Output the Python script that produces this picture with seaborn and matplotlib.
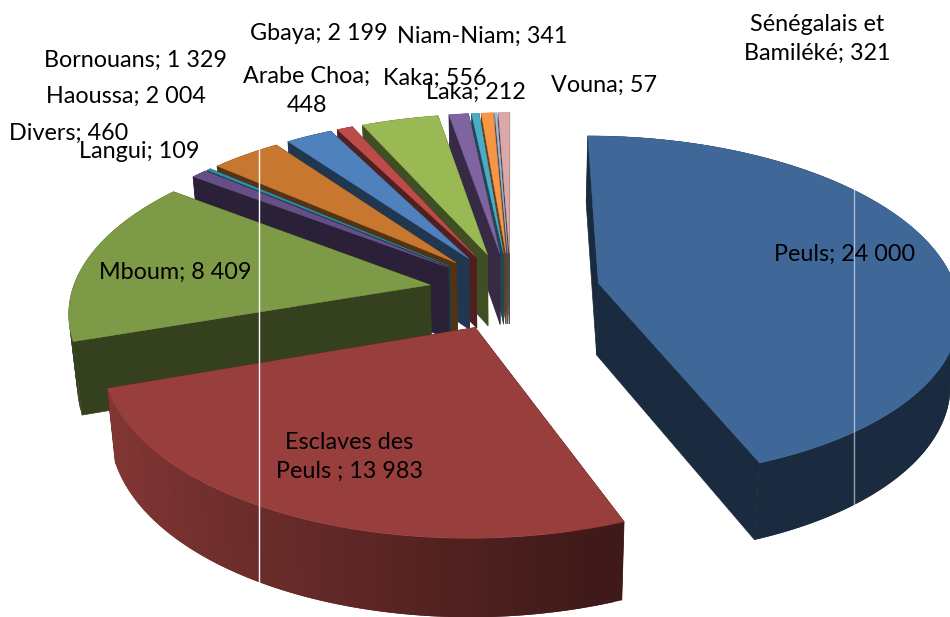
import numpy as np
import matplotlib
matplotlib.use('Agg')
import matplotlib.pyplot as plt
import seaborn as sns

# slices, clockwise from 12 o'clock
names = ['Peuls; ', 'Esclaves des\nPeuls ; ', 'Mboum; ', 'Divers; ', 'Langui; ', 'Haoussa; ', 'Bornouans; ',
         'Arabe Choa;\n', 'Gbaya; ', 'Kaka; ', 'Laka; ', 'Niam-Niam; ', 'Vouna; ', 'Sénégalais et\nBamiléké; ']
values = [24000, 13983, 8409, 460, 109, 2004, 1329, 448, 2199, 556, 212, 341, 57, 321]
colors = ['#3F6797', '#983F3D', '#7D9A47', '#654F86', '#2F8FA8', '#C87730', '#4F81BD',
          '#BC4B4A', '#98B954', '#8064A2', '#4BACC6', '#F79646', '#A6BBDD', '#D9A9A8']
label_x = [845, 349, 175, 69, 139, 126, 135, 307, 319, 435, 476, 482, 604, 817]
label_y = [254, 457, 272, 133, 152, 96, 60, 91, 33, 78, 92, 36, 85, 39]

sns.set_theme(style='white')
plt.rcParams['font.family'] = ['Lato', 'DejaVu Sans']
palette = sns.color_palette(colors)

# projection of the tilted pie
cx, cy = 511, 291
rx, ry = 358, 170
persp = 0.14
depth = 72
# Peuls sits a little further out than the rest
explode = [0.25] + [0.23] * (len(values) - 1)


def project(px, py):
    s = 1 / (1 + persp * py)
    return cx + rx * px * s, cy - ry * py * s, s


def top_pt(px, py):
    x, y, s = project(px, py)
    return x, y


def bottom_pt(px, py):
    x, y, s = project(px, py)
    return cx + (x - cx) * 0.98, y + depth * s ** 0.5


def shade(col, f):
    return tuple(min(1, c * f) for c in col)


fig = plt.figure(figsize=(9.5, 6.17), dpi=100)
ax = fig.add_axes([0, 0, 1, 1])
ax.set_xlim(0, 950)
ax.set_ylim(617, 0)
ax.axis('off')

angles = np.cumsum([0] + values) / sum(values) * 2 * np.pi
mids = (angles[:-1] + angles[1:]) / 2

# back slices first, so the front ones paint over them
for i in np.argsort(-np.cos(mids)):
    a0, a1 = angles[i], angles[i + 1]
    col = palette[i]
    ox, oy = explode[i] * np.sin(mids[i]), explode[i] * np.cos(mids[i])
    th = np.linspace(a0, a1, max(2, int((a1 - a0) / 0.02) + 1))
    rim_x, rim_y = ox + np.sin(th), oy + np.cos(th)

    # radial cut faces
    dark = shade(col, 0.42)
    for k in [0, -1]:
        pts = [top_pt(ox, oy), top_pt(rim_x[k], rim_y[k]), bottom_pt(rim_x[k], rim_y[k]), bottom_pt(ox, oy)]
        ax.fill(*zip(*pts), color=dark, lw=0.5)

    # outer wall: only Esclaves gets the left-to-right gradient, the others stay dark
    # strips overlap the next one to hide seams
    for k in range(len(th) - 1):
        f = np.clip(0.52 - 0.36 * np.sin(th[k]), 0.42, 0.9) if i == 1 else 0.42
        k2 = min(k + 2, len(th) - 1)
        pts = [top_pt(rim_x[k], rim_y[k]), top_pt(rim_x[k2], rim_y[k2]),
               bottom_pt(rim_x[k2], rim_y[k2]), bottom_pt(rim_x[k], rim_y[k])]
        ax.fill(*zip(*pts), color=shade(col, f), lw=0)

    # top surface
    pts = [top_pt(ox, oy)] + [top_pt(u, v) for u, v in zip(rim_x, rim_y)]
    ax.fill(*zip(*pts), color=col, lw=0.3)

# the two thin light rules crossing the picture
ax.plot([259, 259], [147, 585], color='white', lw=1)
ax.plot([854, 854], [190, 505], color='white', lw=1, alpha=0.55)

for name, v, x, y in zip(names, values, label_x, label_y):
    txt = name + f'{v:,}'.replace(',', ' ')
    ax.text(x, y, txt, ha='center', va='center', fontsize=16.8, color='black', linespacing=1.5)

fig.savefig('out.png', dpi=100)
